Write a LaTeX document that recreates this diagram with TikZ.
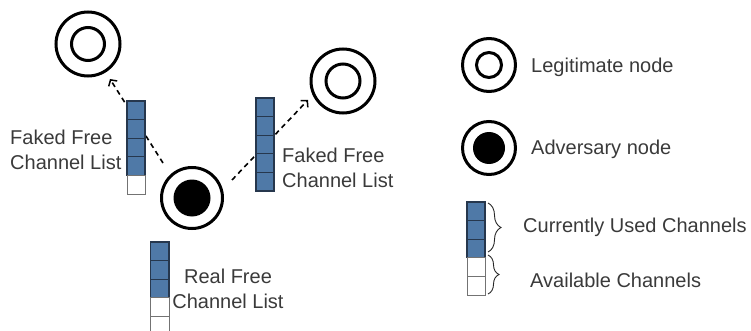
\documentclass[tikz,border=0pt]{standalone}
\usepackage{fontspec}
\setmainfont{Liberation Sans}
\usetikzlibrary{arrows.meta,decorations.pathreplacing}
\definecolor{cellblue}{HTML}{4F79A7}
\definecolor{celledge}{HTML}{26374D}
\definecolor{txt}{HTML}{3A3A3A}
\newcommand{\chcells}[5]{% x, ytop, nblue, nwhite, width
  \foreach \i in {1,...,#3}{
    \draw[blue cell] (#1,{#2+(\i-1)*18.6}) rectangle ++(#5,18.6);
  }
  \ifnum#4>0
  \foreach \j in {1,...,#4}{
    \draw[white cell] (#1,{#2+(#3+\j-1)*18.6}) rectangle ++(#5,18.6);
  }
  \fi
}
\begin{document}
\begin{tikzpicture}[x=1pt,y=-1pt,
  outer ring/.style={circle,draw=black,line width=3pt,minimum size=#1,inner sep=0pt},
  inner ring/.style={circle,draw=black,line width=3pt,minimum size=#1,inner sep=0pt},
  inner dot/.style={circle,fill=black,minimum size=#1,inner sep=0pt},
  blue cell/.style={fill=cellblue,draw=celledge,line width=1.1pt},
  white cell/.style={fill=white,draw=black!55,line width=1pt},
  lbl/.style={font=\fontsize{20}{25}\selectfont,text=txt,inner sep=0pt},
  fake link/.style={dashed,dash pattern=on 5pt off 4pt,line width=1.6pt,
    -{Straight Barb[length=4.5pt,width=10pt,line width=1.5pt]}},
  brc/.style={decorate,draw=black!85,line width=0.9pt}]
\useasboundingbox (0,0) rectangle (751,331);
\clip (0,0) rectangle (751,331);

% nodes
\node[outer ring=64pt] (L1) at (88,44) {};
\node[inner ring=33pt] (L1i) at (L1) {};
\node[outer ring=64pt] (L2) at (343,81) {};
\node[inner ring=34pt] (L2i) at (L2) {};
\node[outer ring=61pt] (A) at (192,198) {};
\node[inner dot=37pt] (Ai) at (A) {};

% connectors
\coordinate (s1) at (163,163);
\coordinate (e1) at (110,79);
\coordinate (s2) at (232,180);
\coordinate (e2) at (308,100);
\draw[fake link] (s1) -- (e1);
\draw[fake link] (s2) -- (e2);

% channel lists
\chcells{127}{101}{4}{1}{18}
\chcells{256}{98}{5}{0}{18}
\chcells{150.5}{242}{3}{2}{18.5}

\node[lbl,anchor=north west,align=left] (t1) at (10,129.7) {Faked Free\\Channel List};
\node[lbl,anchor=north west,align=left] (t2) at (282,147.7) {Faked Free\\Channel List};
\node[lbl,anchor=north,align=center] (t3) at (228,268.7) {Real Free\\Channel List};

% legend
\node[outer ring=53pt] (LL) at (489,65) {};
\node[inner ring=25pt] (LLi) at (LL) {};
\node[lbl,anchor=base west] (tl) at (531,72.5) {Legitimate node};
\node[outer ring=53pt] (LA) at (489,148) {};
\node[inner dot=32pt] (LAi) at (LA) {};
\node[lbl,anchor=base west] (ta) at (531,155) {Adversary node};

\chcells{467}{202}{3}{2}{18}
\draw[brc,decoration={brace,amplitude=13pt}] (488,203) -- (488,252);
\draw[brc,decoration={brace,amplitude=11pt}] (488,255) -- (488,294);
\node[lbl,anchor=base west] (tc) at (523,232) {Currently Used Channels};
\node[lbl,anchor=base west] (tv) at (530,287) {Available Channels};
\end{tikzpicture}
\end{document}
